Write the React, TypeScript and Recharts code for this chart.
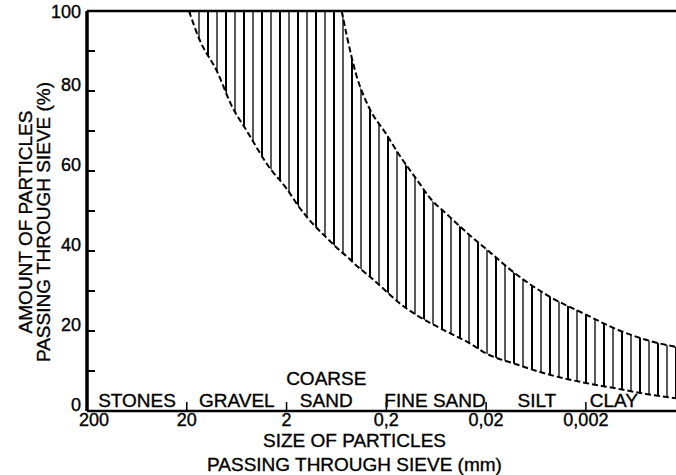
import {
  Area,
  ComposedChart,
  Label,
  Line,
  ReferenceLine,
  Scatter,
  XAxis,
  YAxis,
} from "recharts";

const FONT = "'Liberation Sans', Arial, Helvetica, sans-serif";
// scanned print looks a touch heavier than plain regular weight
const INK = { fill: "#000", stroke: "#000", strokeWidth: 0.35 };

// particle size in mm (log axis, coarse on the left)
const sizes = [
  19, 15, 10, 7, 5, 3, 2, 1.5, 1, 0.8, 0.56, 0.5, 0.4, 0.3, 0.2, 0.15, 0.1,
  0.07, 0.05, 0.03, 0.02, 0.01, 0.005, 0.002, 0.001, 0.0005, 0.00025,
];
// fine-side boundary of the envelope (%)
const lowerPct = [
  100, 93, 85, 76, 70, 61, 55.6, 51, 45.8, 43.4, 39.7, 38.7, 36.4, 33.8, 29.9,
  27.1, 24, 21.8, 19.9, 17.1, 14.4, 11.7, 9.3, 7, 5.65, 4.25, 3.2,
];
// coarse-side boundary (%), only below 0.56 mm
const upperPct = [
  null, null, null, null, null, null, null, null, null, null, 100, 94, 84, 76,
  69.2, 64.2, 58, 52.7, 49.3, 44.2, 40.5, 34.2, 29.1, 24.1, 20.5, 17.8, 16,
];

const sizeTicks = [200, 20, 2, 0.2, 0.02, 0.002];
const pctTicks = [0, 10, 20, 30, 40, 50, 60, 70, 80, 90, 100];

const classNames = ["STONES", "GRAVEL", "COARSE SAND", "FINE SAND", "SILT", "CLAY"];
const classSizes = [63, 6.3, 0.8, 0.065, 0.0062, 0.00105];

const data = sizes.map((size, i) => ({
  size,
  lower: lowerPct[i],
  upper: upperPct[i],
  band: [lowerPct[i], upperPct[i] ?? 100],
}));

const classData = classNames.map((name, i) => ({ size: classSizes[i], pos: 0, name }));

const fmtSize = (v: number) => String(v).replace(".", ",");

function PctTick({ x, y, payload }: any) {
  const v = payload.value;
  return (
    <g>
      <line x1={x} x2={x + 8} y1={y} y2={y} stroke="#000" strokeWidth={2} />
      {v % 20 === 0 && (
        <text
          x={x - 6}
          y={y + (v === 100 ? 1 : -6)}
          textAnchor="end"
          dominantBaseline="central"
          fontSize={18}
          fontFamily={FONT}
          {...INK}
        >
          {v}
        </text>
      )}
    </g>
  );
}

function SizeTick({ x, y, payload }: any) {
  const v = payload.value;
  return (
    <g>
      {v !== 200 && <line x1={x} x2={x} y1={y - 9} y2={y} stroke="#000" strokeWidth={1.5} />}
      <text
        x={x + (v === 200 ? 7 : 0)}
        y={y + 15}
        textAnchor="middle"
        fontSize={18}
        fontFamily={FONT}
        {...INK}
      >
        {fmtSize(v)}
      </text>
    </g>
  );
}

function ClassLabel({ cx, cy, payload }: any) {
  const words: string[] = payload.name === "COARSE SAND" ? ["COARSE", "SAND"] : [payload.name];
  return (
    <g>
      {words.map((w, i) => (
        <text
          key={w}
          x={cx}
          y={cy - 4 - (words.length - 1 - i) * 22}
          textAnchor="middle"
          fontSize={19}
          fontFamily={FONT}
          {...INK}
        >
          {w}
        </text>
      ))}
    </g>
  );
}

export default function App() {
  return (
    <div style={{ position: "absolute", left: 0, top: 0, width: 676, height: 475, background: "#fff" }}>
      <svg width={0} height={0} style={{ position: "absolute" }}>
        <defs>
          <pattern id="hatch" patternUnits="userSpaceOnUse" width={18} height={12}>
            <line x1={1} x2={1} y1={0} y2={12} stroke="#000" strokeWidth={1.3} />
            <line x1={10} x2={10} y1={0} y2={12} stroke="#000" strokeWidth={2} />
          </pattern>
        </defs>
      </svg>
      <ComposedChart
        width={676}
        height={475}
        data={data}
        margin={{ top: 11, right: 0, bottom: 34, left: 0 }}
        style={{ fontFamily: FONT }}
      >
        <XAxis
          dataKey="size"
          type="number"
          scale="log"
          domain={[0.00025, 200]}
          reversed
          allowDataOverflow
          ticks={sizeTicks}
          interval={0}
          tick={<SizeTick />}
          tickLine={false}
          tickSize={0}
          tickMargin={0}
          height={30}
          axisLine={{ stroke: "#000", strokeWidth: 2.5 }}
        >
          <Label
            content={({ viewBox }: any) => {
              const cx = viewBox.x + viewBox.width / 2 - 27;
              return (
                <g fontFamily={FONT} fontSize={19} {...INK}>
                  <text x={cx} y={viewBox.y + 36} textAnchor="middle">
                    SIZE OF PARTICLES
                  </text>
                  <text x={cx} y={viewBox.y + 60} textAnchor="middle">
                    PASSING THROUGH SIEVE (mm)
                  </text>
                </g>
              );
            }}
          />
        </XAxis>
        <YAxis
          type="number"
          domain={[0, 100]}
          ticks={pctTicks}
          interval={0}
          width={87}
          tick={<PctTick />}
          tickLine={false}
          tickSize={0}
          tickMargin={0}
          axisLine={{ stroke: "#000", strokeWidth: 3.5 }}
        >
          <Label
            content={({ viewBox }: any) => {
              const cy = viewBox.y + viewBox.height / 2 + 11;
              return (
                <g fontFamily={FONT} fontSize={19} {...INK}>
                  <text
                    x={25}
                    y={cy}
                    transform={`rotate(-90 25 ${cy})`}
                    textAnchor="middle"
                    dominantBaseline="central"
                  >
                    AMOUNT OF PARTICLES
                  </text>
                  <text
                    x={43}
                    y={cy}
                    transform={`rotate(-90 43 ${cy})`}
                    textAnchor="middle"
                    dominantBaseline="central"
                  >
                    PASSING THROUGH SIEVE (%)
                  </text>
                </g>
              );
            }}
          />
        </YAxis>
        <Area
          dataKey="band"
          type="monotone"
          fill="url(#hatch)"
          fillOpacity={1}
          stroke="none"
          isAnimationActive={false}
        />
        <Line
          dataKey="lower"
          type="monotone"
          stroke="#000"
          strokeWidth={2}
          strokeDasharray="6 3"
          dot={false}
          isAnimationActive={false}
        />
        <Line
          dataKey="upper"
          type="monotone"
          stroke="#000"
          strokeWidth={2}
          strokeDasharray="6 3"
          dot={false}
          isAnimationActive={false}
        />
        <ReferenceLine y={100} stroke="#000" strokeWidth={2.5} />
        <Scatter data={classData} dataKey="pos" shape={<ClassLabel />} isAnimationActive={false} />
      </ComposedChart>
    </div>
  );
}
